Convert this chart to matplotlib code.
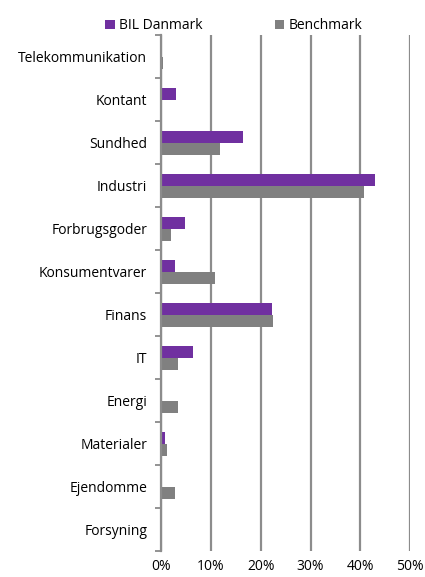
import matplotlib
matplotlib.use("Agg")
import matplotlib.pyplot as plt
import numpy as np

plt.rcParams['font.family'] = ['Open Sans', 'DejaVu Sans']

categories = ["Telekommunikation", "Kontant", "Sundhed", "Industri", "Forbrugsgoder",
              "Konsumentvarer", "Finans", "IT", "Energi", "Materialer", "Ejendomme", "Forsyning"]
bil_danmark = [0.0, 2.9, 16.5, 43.0, 4.8, 2.7, 22.2, 6.4, 0.0, 0.7, 0.0, 0.0]
benchmark = [0.3, 0.0, 11.9, 40.8, 2.0, 10.8, 22.4, 3.3, 3.3, 1.1, 2.7, 0.0]
xticks = [0, 10, 20, 30, 40, 50]

purple = "#7030A0"
grey = "#808080"

fig = plt.figure(figsize=(4.25, 5.77), dpi=100)
ax = fig.add_axes([0.379, 0.045, 0.586, 0.894])

y = np.arange(len(categories))
h = 0.28
ax.barh(y - h / 2, bil_danmark, height=h, color=purple, label="BIL Danmark", zorder=3)
ax.barh(y + h / 2, benchmark, height=h, color=grey, label="Benchmark", zorder=3)

ax.set_xlim(0, 50)
ax.set_ylim(len(categories) - 0.5, -0.5)
ax.set_xticks(xticks)
ax.set_xticklabels([f"{v}%" for v in xticks], fontsize=10)
ax.set_yticks(y)
ax.set_yticklabels(categories, fontsize=10)
ax.tick_params(axis='y', length=0, pad=10)
ax.set_yticks(np.arange(len(categories) + 1) - 0.5, minor=True)
ax.tick_params(axis='y', which='minor', length=4, color=grey, width=1.2)
ax.tick_params(axis='x', length=0, pad=6)

ax.grid(axis='x', color='#8c8c8c', linewidth=1.6, zorder=0)
for s in ['top', 'right', 'bottom']:
    ax.spines[s].set_visible(False)
ax.spines['left'].set_color('#8c8c8c')
ax.spines['left'].set_linewidth(1.6)
ax.spines['left'].set_zorder(4)

fig.legend(loc='upper center', bbox_to_anchor=(0.55, 0.99), ncol=2, frameon=False,
           fontsize=10, handlelength=0.7, handleheight=0.7, columnspacing=5.2, handletextpad=0.3)

fig.savefig("out.png", dpi=100)
